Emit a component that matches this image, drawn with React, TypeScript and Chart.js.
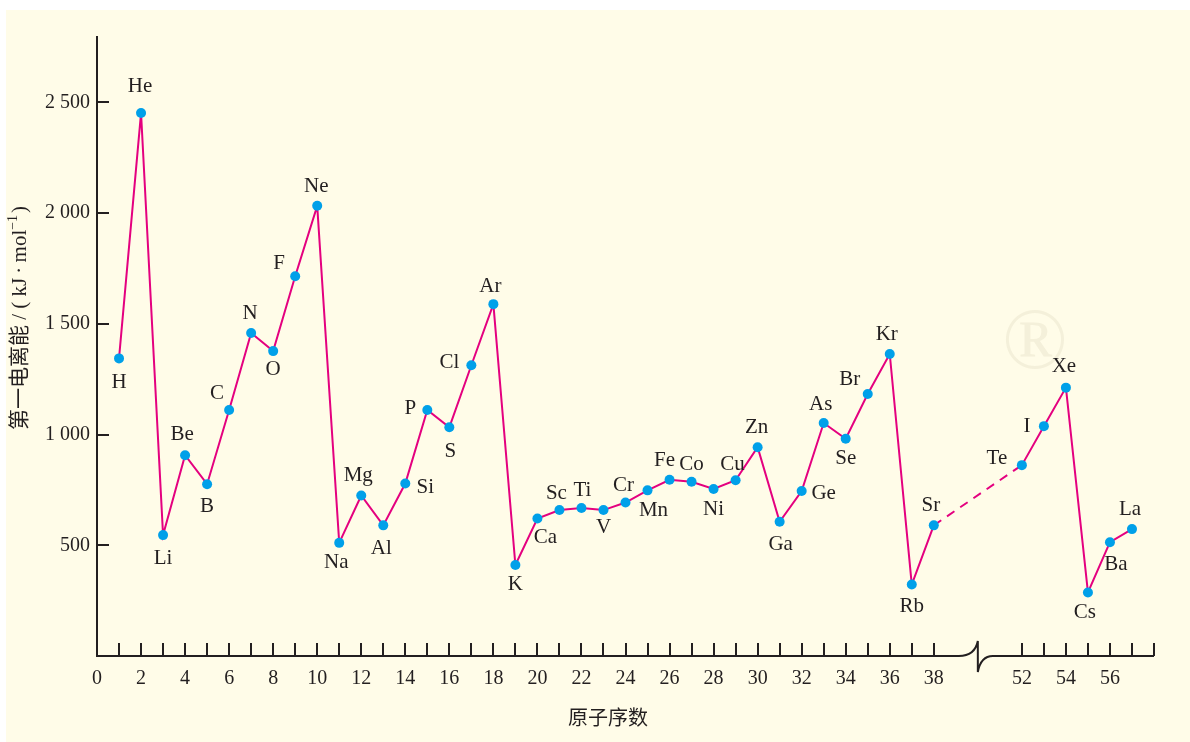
import React, { useEffect, useRef } from 'react';
import { Chart, registerables } from 'chart.js';

Chart.register(...registerables);

// ---------- data ----------
const ELEMENTS = [
  'H', 'He', 'Li', 'Be', 'B', 'C', 'N', 'O', 'F', 'Ne',
  'Na', 'Mg', 'Al', 'Si', 'P', 'S', 'Cl', 'Ar',
  'K', 'Ca', 'Sc', 'Ti', 'V', 'Cr', 'Mn', 'Fe', 'Co', 'Ni', 'Cu', 'Zn',
  'Ga', 'Ge', 'As', 'Se', 'Br', 'Kr',
  'Rb', 'Sr', 'Te', 'I', 'Xe', 'Cs', 'Ba', 'La',
];

const ATOMIC_NUMBERS = [
  1, 2, 3, 4, 5, 6, 7, 8, 9, 10,
  11, 12, 13, 14, 15, 16, 17, 18,
  19, 20, 21, 22, 23, 24, 25, 26, 27, 28, 29, 30,
  31, 32, 33, 34, 35, 36,
  37, 38, 52, 53, 54, 55, 56, 57,
];

const IONIZATION_ENERGIES = [
  1344, 2452, 546, 907, 776, 1111, 1459, 1377, 1715, 2033,
  511, 725, 590, 779, 1111, 1033, 1313, 1589,
  411, 621, 659, 668, 659, 693, 748, 796, 787, 754, 794, 943,
  606, 745, 1052, 981, 1183, 1364,
  323, 590, 862, 1038, 1212, 287, 514, 573,
];

const X_TICK_LABEL_VALUES = [
  0, 2, 4, 6, 8, 10, 12, 14, 16, 18, 20, 22, 24, 26, 28, 30, 32, 34, 36, 38,
  52, 54, 56,
];
const X_MINOR_TICK_VALUES = [
  1, 2, 3, 4, 5, 6, 7, 8, 9, 10, 11, 12, 13, 14, 15, 16, 17, 18, 19, 20,
  21, 22, 23, 24, 25, 26, 27, 28, 29, 30, 31, 32, 33, 34, 35, 36, 37, 38,
  52, 53, 54, 55, 56, 57, 58,
];
const Y_TICK_VALUES = [500, 1000, 1500, 2000, 2500];
const Y_TICK_LABELS = ['500', '1 000', '1 500', '2 000', '2 500'];

const X_TITLE = '原子序数';
const Y_TITLE_MAIN = '第一电离能 / ( kJ\u2009·\u2009mol';
const Y_TITLE_SUP = '−1';
const Y_TITLE_END = ')';

// axis break: values after the break are drawn shifted left
const BREAK_LAST = 38;
const BREAK_FIRST = 52;
const BREAK_GAP_UNITS = 4;
const toAxis = (n: number) =>
  n <= BREAK_LAST ? n : n - (BREAK_FIRST - BREAK_LAST) + BREAK_GAP_UNITS;

// ---------- styles ----------
const LINE_COLOR = '#E4007F';
const POINT_COLOR = '#00A0E9';
const INK = '#231F20';
const BG = '#FFFCE8';
const SERIF = '"Liberation Serif", "Noto Sans CJK SC", serif';

// label offsets (dx, dy) from each point, in px
const LABEL_OFFSETS: [number, number][] = [
  [0, 24], [-1, -27], [0, 23], [-3, -21], [0, 22], [-12, -17], [-1, -19], [0, 18], [-16, -13], [-1, -19],
  [-3, 20], [-3, -20], [-2, 23], [20, 4], [-17, -2], [1, 24], [-22, -3], [-3, -18],
  [0, 19], [8, 19], [-3, -17], [1, -18], [0, 17], [-2, -17], [6, 20], [-5, -19], [0, -17], [0, 20], [-3, -16], [-1, -20],
  [1, 23], [22, 2], [-3, -19], [0, 20], [-18, -15], [-3, -19],
  [0, 22], [-3, -20], [-25, -7], [-17, 0], [-2, -21], [-3, 20], [6, 22], [-2, -20],
];

const decorPlugin = {
  id: 'decor',
  beforeDatasetsDraw(chart: any) {
    const { ctx, scales } = chart;
    const xs = scales.x;
    const ys = scales.y;
    const x0 = xs.getPixelForValue(0);
    const y0 = ys.getPixelForValue(0);
    const yTop = ys.getPixelForValue(ys.max);
    const xEnd = xs.getPixelForValue(xs.max);
    const xBreak = xs.getPixelForValue(BREAK_LAST + BREAK_GAP_UNITS / 2);

    ctx.save();
    // watermark
    ctx.fillStyle = 'rgba(205,200,170,0.22)';
    ctx.font = '86px "Liberation Serif"';
    ctx.textAlign = 'center';
    ctx.textBaseline = 'middle';
    ctx.fillText('®', 1035, 345);

    ctx.strokeStyle = INK;
    ctx.lineWidth = 2;
    ctx.lineCap = 'butt';
    // y axis
    ctx.beginPath();
    ctx.moveTo(x0, yTop);
    ctx.lineTo(x0, y0 + 1);
    ctx.stroke();
    // x axis with break
    ctx.beginPath();
    ctx.moveTo(x0 - 1, y0);
    ctx.lineTo(xBreak - 19, y0);
    ctx.quadraticCurveTo(xBreak - 3, y0, xBreak, y0 - 15);
    ctx.lineTo(xBreak, y0 + 16);
    ctx.quadraticCurveTo(xBreak + 3, y0, xBreak + 15, y0);
    ctx.lineTo(xEnd, y0);
    ctx.stroke();
    // x minor ticks
    ctx.beginPath();
    X_MINOR_TICK_VALUES.forEach((v) => {
      const px = Math.round(xs.getPixelForValue(toAxis(v)));
      ctx.moveTo(px, y0);
      ctx.lineTo(px, y0 - 13);
    });
    ctx.stroke();
    // y ticks
    ctx.beginPath();
    Y_TICK_VALUES.forEach((v) => {
      const py = Math.round(ys.getPixelForValue(v));
      ctx.moveTo(x0, py);
      ctx.lineTo(x0 + 12, py);
    });
    ctx.stroke();

    ctx.fillStyle = INK;
    ctx.font = `20px ${SERIF}`;
    // x tick labels
    ctx.textAlign = 'center';
    ctx.textBaseline = 'middle';
    X_TICK_LABEL_VALUES.forEach((v) => {
      ctx.fillText(String(v), xs.getPixelForValue(toAxis(v)), y0 + 23);
    });
    // y tick labels
    ctx.textAlign = 'right';
    Y_TICK_VALUES.forEach((v, i) => {
      ctx.fillText(Y_TICK_LABELS[i], x0 - 7, ys.getPixelForValue(v));
    });
    // x title
    ctx.textAlign = 'center';
    ctx.font = '20px "Noto Sans CJK SC"';
    ctx.fillText(X_TITLE, 608, 717);

    // y title (rotated)
    ctx.translate(20, 318);
    ctx.rotate(-Math.PI / 2);
    ctx.textAlign = 'left';
    ctx.textBaseline = 'middle';
    const mainFont = `21px ${SERIF}`;
    const supFont = `14px ${SERIF}`;
    ctx.font = mainFont;
    const w1 = ctx.measureText(Y_TITLE_MAIN).width;
    const w3 = ctx.measureText(Y_TITLE_END).width;
    ctx.font = supFont;
    const w2 = ctx.measureText(Y_TITLE_SUP).width;
    const total = w1 + w2 + 2 + w3;
    let cx = -total / 2;
    ctx.font = mainFont;
    ctx.fillText(Y_TITLE_MAIN, cx, 0);
    cx += w1;
    ctx.font = supFont;
    ctx.fillText(Y_TITLE_SUP, cx, -7);
    cx += w2 + 2;
    ctx.font = mainFont;
    ctx.fillText(Y_TITLE_END, cx, 0);
    ctx.restore();
  },
  afterDatasetsDraw(chart: any) {
    const { ctx } = chart;
    const meta = chart.getDatasetMeta(0);
    ctx.save();
    ctx.fillStyle = INK;
    ctx.font = `21px ${SERIF}`;
    ctx.textAlign = 'center';
    ctx.textBaseline = 'middle';
    meta.data.forEach((pt: any, i: number) => {
      const [dx, dy] = LABEL_OFFSETS[i];
      ctx.fillText(ELEMENTS[i], pt.x + dx, pt.y + dy);
    });
    ctx.restore();
  },
};

export default function App() {
  const canvasRef = useRef<HTMLCanvasElement | null>(null);

  useEffect(() => {
    const canvas = canvasRef.current;
    if (!canvas) return;
    const chart = new Chart(canvas, {
      type: 'line',
      data: {
        datasets: [
          {
            data: ATOMIC_NUMBERS.map((n, i) => ({ x: toAxis(n), y: IONIZATION_ENERGIES[i] })),
            borderColor: LINE_COLOR,
            borderWidth: 2,
            pointRadius: 5,
            pointBackgroundColor: POINT_COLOR,
            pointBorderWidth: 0,
            pointBorderColor: POINT_COLOR,
            tension: 0,
            clip: false,
            segment: {
              borderDash: (c: any) =>
                ATOMIC_NUMBERS[c.p1DataIndex] - ATOMIC_NUMBERS[c.p0DataIndex] > 1 ? [9, 7] : undefined,
            },
          } as any,
        ],
      },
      options: {
        responsive: false,
        animation: false,
        devicePixelRatio: 1,
        layout: { padding: { left: 97, right: 36, top: 36, bottom: 86 } },
        scales: {
          x: { type: 'linear', min: 0, max: 48, display: false },
          y: { type: 'linear', min: 0, max: 2800, display: false },
        },
        plugins: {
          legend: { display: false },
          tooltip: { enabled: false },
        },
        events: [],
      },
      plugins: [decorPlugin],
    });
    return () => chart.destroy();
  }, []);

  return (
    <div
      style={{
        position: 'fixed',
        left: 0,
        top: 0,
        width: 1190,
        height: 742,
        background: '#FFFFFF',
        overflow: 'hidden',
      }}
    >
      <div
        style={{
          position: 'absolute',
          left: 6,
          top: 10,
          right: 0,
          bottom: 0,
          background: BG,
        }}
      />
      <canvas
        ref={canvasRef}
        width={1190}
        height={742}
        style={{ position: 'absolute', left: 0, top: 0, width: 1190, height: 742 }}
      />
    </div>
  );
}
